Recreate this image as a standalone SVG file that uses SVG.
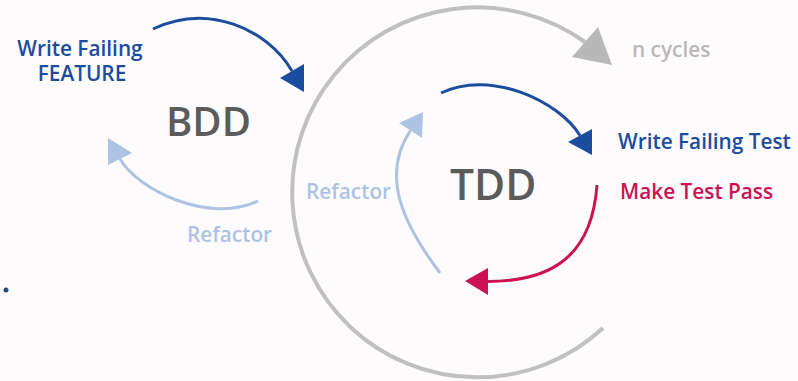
<svg xmlns="http://www.w3.org/2000/svg" width="798" height="381" viewBox="0 0 798 381">
<style>
text{font-family:"Open Sans","Noto Sans","Liberation Sans",sans-serif;font-weight:600}
.lbl{font-size:20.8px}
.big{font-size:40px;fill:#5b5b5b}
.blue{fill:#1b4c9e}
.lblue{fill:#adc3e3}
.red{fill:#cc1254}
.grey{fill:#b8b8b8}
.ln{fill:none;stroke-linecap:butt}
.sblue{stroke:#1b4c9e;stroke-width:3}
.slblue{stroke:#adc3e3;stroke-width:3}
.sred{stroke:#cc1254;stroke-width:3}
.sgrey{stroke:#c0c0c0;stroke-width:4}
</style>
<rect width="798" height="381" fill="#fdfbfc"/>
<g id="connectors">
<path class="ln sgrey" d="M603,328 A185,185 0 1 1 585,42"/>
<polygon class="grey" points="598,27 572,57 612,65"/>
<path class="ln sblue" d="M153,29 C207,3 267,28 292,71"/>
<polygon class="blue" points="304,64 280,78 304,92"/>
<path class="ln slblue" d="M258,201 C208.5,224.7 137.5,189.3 120,159"/>
<polygon class="lblue" points="108,138 132,153 108,165"/>
<path class="ln sblue" d="M441,93 C490.5,68.8 559,101.4 580,135.5"/>
<polygon class="blue" points="592,129 568,142 592,155"/>
<path class="ln sred" d="M597,185 C592,255 553,281.5 488,281.5"/>
<polygon class="red" points="488,268 465,281 488,295"/>
<path class="ln slblue" d="M440,273 C404,225 379.7,176.2 410.5,130.5"/>
<polygon class="lblue" points="423,112 399,123 422,138"/>
</g>
<g id="bdd">
<text class="big" x="166" y="136">BDD</text>
</g>
<g id="tdd">
<text class="big" x="450" y="200" style="font-size:42.5px">TDD</text>
</g>
<g id="write-failing-feature">
<text class="lbl blue" x="80" y="56" text-anchor="middle">Write Failing</text>
<text class="lbl blue" x="82" y="81" text-anchor="middle">FEATURE</text>
</g>
<g id="bdd-refactor">
<text class="lbl lblue" x="187" y="242">Refactor</text>
</g>
<g id="n-cycles">
<text class="lbl grey" x="632" y="57">n cycles</text>
</g>
<g id="tdd-refactor">
<text class="lbl lblue" x="306" y="199">Refactor</text>
</g>
<g id="write-failing-test">
<text class="lbl blue" x="618" y="149">Write Failing Test</text>
</g>
<g id="make-test-pass">
<text class="lbl red" x="620" y="199">Make Test Pass</text>
</g>
<g id="dot">
<circle cx="6" cy="290" r="2.5" fill="#1f4e8c"/>
</g>
</svg>
